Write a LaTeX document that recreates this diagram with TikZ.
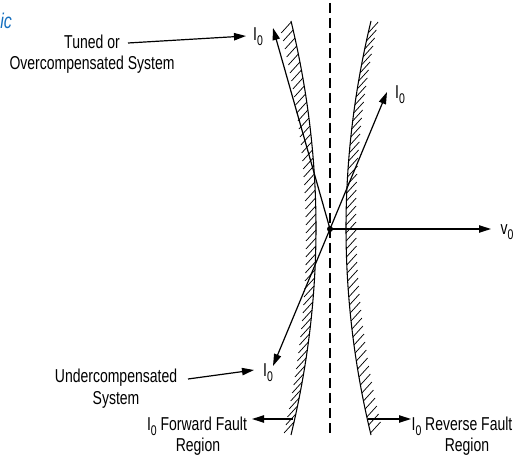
\documentclass[tikz,border=0pt]{standalone}
\usepackage{fontspec}
\setmainfont[FakeStretch=0.75]{Liberation Sans}
\usetikzlibrary{arrows.meta}
\definecolor{capblue}{RGB}{20,110,190}
\newcommand\sub[1]{\raisebox{-0.5ex}{\fontsize{10.5}{10.5}\selectfont #1}}
\begin{document}
\begin{tikzpicture}[x=0.75pt,y=-0.75pt,
  font=\fontsize{14}{16}\selectfont,
  lbl/.style={inner sep=0pt},
  arr/.style={line width=0.9pt,-{Triangle[length=9pt,width=5.5pt]}},
  bnd/.style={line width=0.8pt},
  hatch/.style={line width=0.55pt}]
\useasboundingbox (0,0) rectangle (514,459);
% caption fragment
\node[lbl,anchor=base west,text=capblue,font=\fontsize{16}{16}\selectfont\itshape] (cap) at (0,29) {ic};
% dashed axis
\draw[dash pattern=on 7.5pt off 3.75pt, line width=0.8pt] (330,3) -- (330,437);
% boundaries
\draw[bnd] plot[domain=21:435,samples=60,variable=\t] ({316-25*((\t-228)/207)^2},\t);
\draw[bnd] plot[domain=21:435,samples=60,variable=\t] ({346+25*((\t-228)/207)^2},\t);
\foreach \t in {22,30,...,426}{
  \draw[hatch] ({316-25*((\t-228)/207)^2},\t) -- ++(-10,11);
}
\foreach \t in {33,41,...,435}{
  \draw[hatch] ({346+25*((\t-228)/207)^2},\t) -- ++(10,-11);
}
% origin
\node[circle,fill,inner sep=0pt,minimum size=4.5pt] (o) at (330,229) {};
% labels
\node[lbl] (i1) at (258,37) {I\sub{0}};
\node[lbl] (i2) at (400,95) {I\sub{0}};
\node[lbl] (i3) at (268,373) {I\sub{0}};
\node[lbl] (v0) at (507,232) {v\sub{0}};
\node[lbl] (t1) at (92,42) {Tuned or};
\node[lbl] (t2) at (92,65) {Overcompensated System};
\node[lbl] (u1) at (116,378) {Undercompensated};
\node[lbl] (u2) at (116,400) {System};
\node[lbl] (f1) at (197,426) {I\sub{0} Forward Fault};
\node[lbl] (f2) at (198,447) {Region};
\node[lbl] (r1) at (462,426) {I\sub{0} Reverse Fault};
\node[lbl] (r2) at (467,447) {Region};
% vector tips
\coordinate (p1) at (273,28);
\coordinate (p2) at (387,92);
\coordinate (p3) at (273,366);
\coordinate (pv) at (491,229);
\draw[arr] (o.center) -- (p1);
\draw[arr] (o.center) -- (p2);
\draw[arr] (o.center) -- (p3);
\draw[arr] (o.center) -- (pv);
% pointer arrows
\coordinate (a1) at (128,43);
\coordinate (a1e) at (246,36);
\draw[arr] (a1) -- (a1e);
\coordinate (a2) at (188,379);
\coordinate (a2e) at (254,370);
\draw[arr] (a2) -- (a2e);
\coordinate (fs) at (293,419);
\coordinate (fe) at (252,419);
\draw[arr] (fs) -- (fe);
\coordinate (rs) at (368,419);
\coordinate (re) at (411,419);
\draw[arr] (rs) -- (re);
\end{tikzpicture}
\end{document}
